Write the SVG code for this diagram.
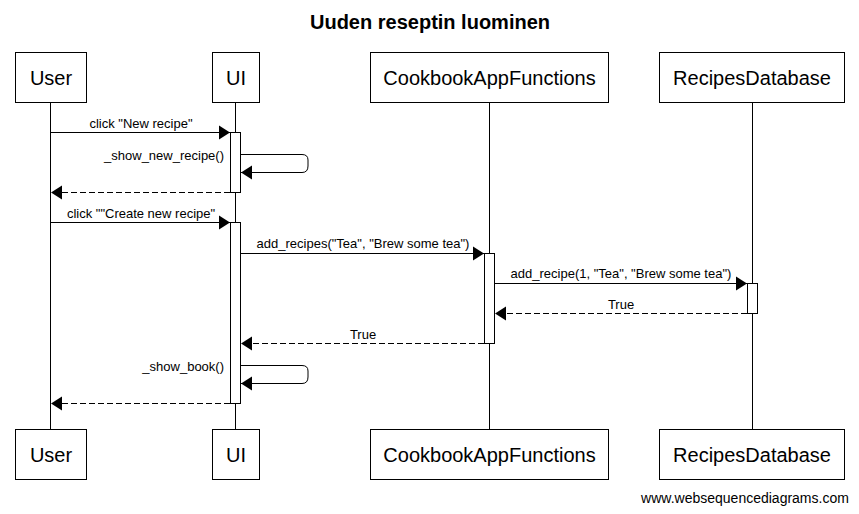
<svg xmlns="http://www.w3.org/2000/svg" width="859" height="514" viewBox="0 0 859 514">
<defs>
<marker id="ah" markerWidth="12" markerHeight="16" refX="11" refY="8" orient="auto" markerUnits="userSpaceOnUse">
<path d="M0,1 L11,8 L0,15 Z" fill="#000"/>
</marker>
<style>
.box{fill:#fff;stroke:#000;stroke-width:1}
.pt{font-family:"Liberation Sans",Arial,sans-serif;font-size:20px;text-anchor:middle;fill:#000}
.ll{stroke:#000;stroke-width:1}
.act{fill:#fff;stroke:#000;stroke-width:1}
.msg{stroke:#000;stroke-width:1;fill:none;marker-end:url(#ah)}
.ret{stroke:#000;stroke-width:1;fill:none;stroke-dasharray:6,3;marker-end:url(#ah)}
.lb{font-family:"Liberation Sans",Arial,sans-serif;font-size:13px;fill:#000}
</style>
</defs>
<rect width="859" height="514" fill="#fff"/>
<text x="430" y="29" font-family="Liberation Sans,Arial,sans-serif" font-size="20" font-weight="bold" text-anchor="middle">Uuden reseptin luominen</text>

<g id="lifelines">
<line class="ll" x1="50.5" y1="102" x2="50.5" y2="430"/>
<line class="ll" x1="235.5" y1="102" x2="235.5" y2="430"/>
<line class="ll" x1="489.5" y1="102" x2="489.5" y2="430"/>
<line class="ll" x1="752.5" y1="102" x2="752.5" y2="430"/>
</g>

<g id="User">
<rect class="box" x="15.5" y="52.5" width="71" height="50"/>
<text class="pt" x="51" y="85">User</text>
<rect class="box" x="15.5" y="429.5" width="71" height="50"/>
<text class="pt" x="51" y="462">User</text>
</g>
<g id="UI">
<rect class="box" x="212.5" y="52.5" width="47" height="50"/>
<text class="pt" x="236" y="85">UI</text>
<rect class="box" x="212.5" y="429.5" width="47" height="50"/>
<text class="pt" x="236" y="462">UI</text>
</g>
<g id="CookbookAppFunctions">
<rect class="box" x="370.5" y="52.5" width="238" height="50"/>
<text class="pt" x="489.5" y="85">CookbookAppFunctions</text>
<rect class="box" x="370.5" y="429.5" width="238" height="50"/>
<text class="pt" x="489.5" y="462">CookbookAppFunctions</text>
</g>
<g id="RecipesDatabase">
<rect class="box" x="659.5" y="52.5" width="185" height="50"/>
<text class="pt" x="752" y="85">RecipesDatabase</text>
<rect class="box" x="659.5" y="429.5" width="185" height="50"/>
<text class="pt" x="752" y="462">RecipesDatabase</text>
</g>

<g id="activations">
<rect class="act" x="230.5" y="132.5" width="10" height="60"/>
<rect class="act" x="230.5" y="222.5" width="10" height="181"/>
<rect class="act" x="484.5" y="253.5" width="10" height="90"/>
<rect class="act" x="747.5" y="283.5" width="10" height="30"/>
</g>

<g id="connectors">
<line class="msg" x1="51" y1="132.5" x2="230" y2="132.5"/>
<text class="lb" x="141" y="128" text-anchor="middle">click "New recipe"</text>

<path class="msg" d="M241,154.5 H302 Q308,154.5 308,160 V166 Q308,172.5 302,172.5 H241"/>
<text class="lb" x="224" y="160" text-anchor="end">_show_new_recipe()</text>

<line class="ret" x1="230" y1="192.5" x2="51" y2="192.5"/>

<line class="msg" x1="51" y1="222.5" x2="230" y2="222.5"/>
<text class="lb" x="141" y="218" text-anchor="middle">click ""Create new recipe"</text>

<line class="msg" x1="241" y1="253.5" x2="484" y2="253.5"/>
<text class="lb" x="363" y="248" text-anchor="middle">add_recipes("Tea", "Brew some tea")</text>

<line class="msg" x1="495" y1="283.5" x2="747" y2="283.5"/>
<text class="lb" x="621" y="278" text-anchor="middle">add_recipe(1, "Tea", "Brew some tea")</text>

<line class="ret" x1="747" y1="313.5" x2="495" y2="313.5"/>
<text class="lb" x="621" y="309" text-anchor="middle">True</text>

<line class="ret" x1="484" y1="343.5" x2="241" y2="343.5"/>
<text class="lb" x="363" y="339" text-anchor="middle">True</text>

<path class="msg" d="M241,365.5 H302 Q308,365.5 308,371 V377 Q308,383.5 302,383.5 H241"/>
<text class="lb" x="224" y="371" text-anchor="end">_show_book()</text>

<line class="ret" x1="230" y1="403.5" x2="51" y2="403.5"/>
</g>

<text x="745" y="503" font-family="Liberation Sans,Arial,sans-serif" font-size="14" text-anchor="middle">www.websequencediagrams.com</text>
</svg>
